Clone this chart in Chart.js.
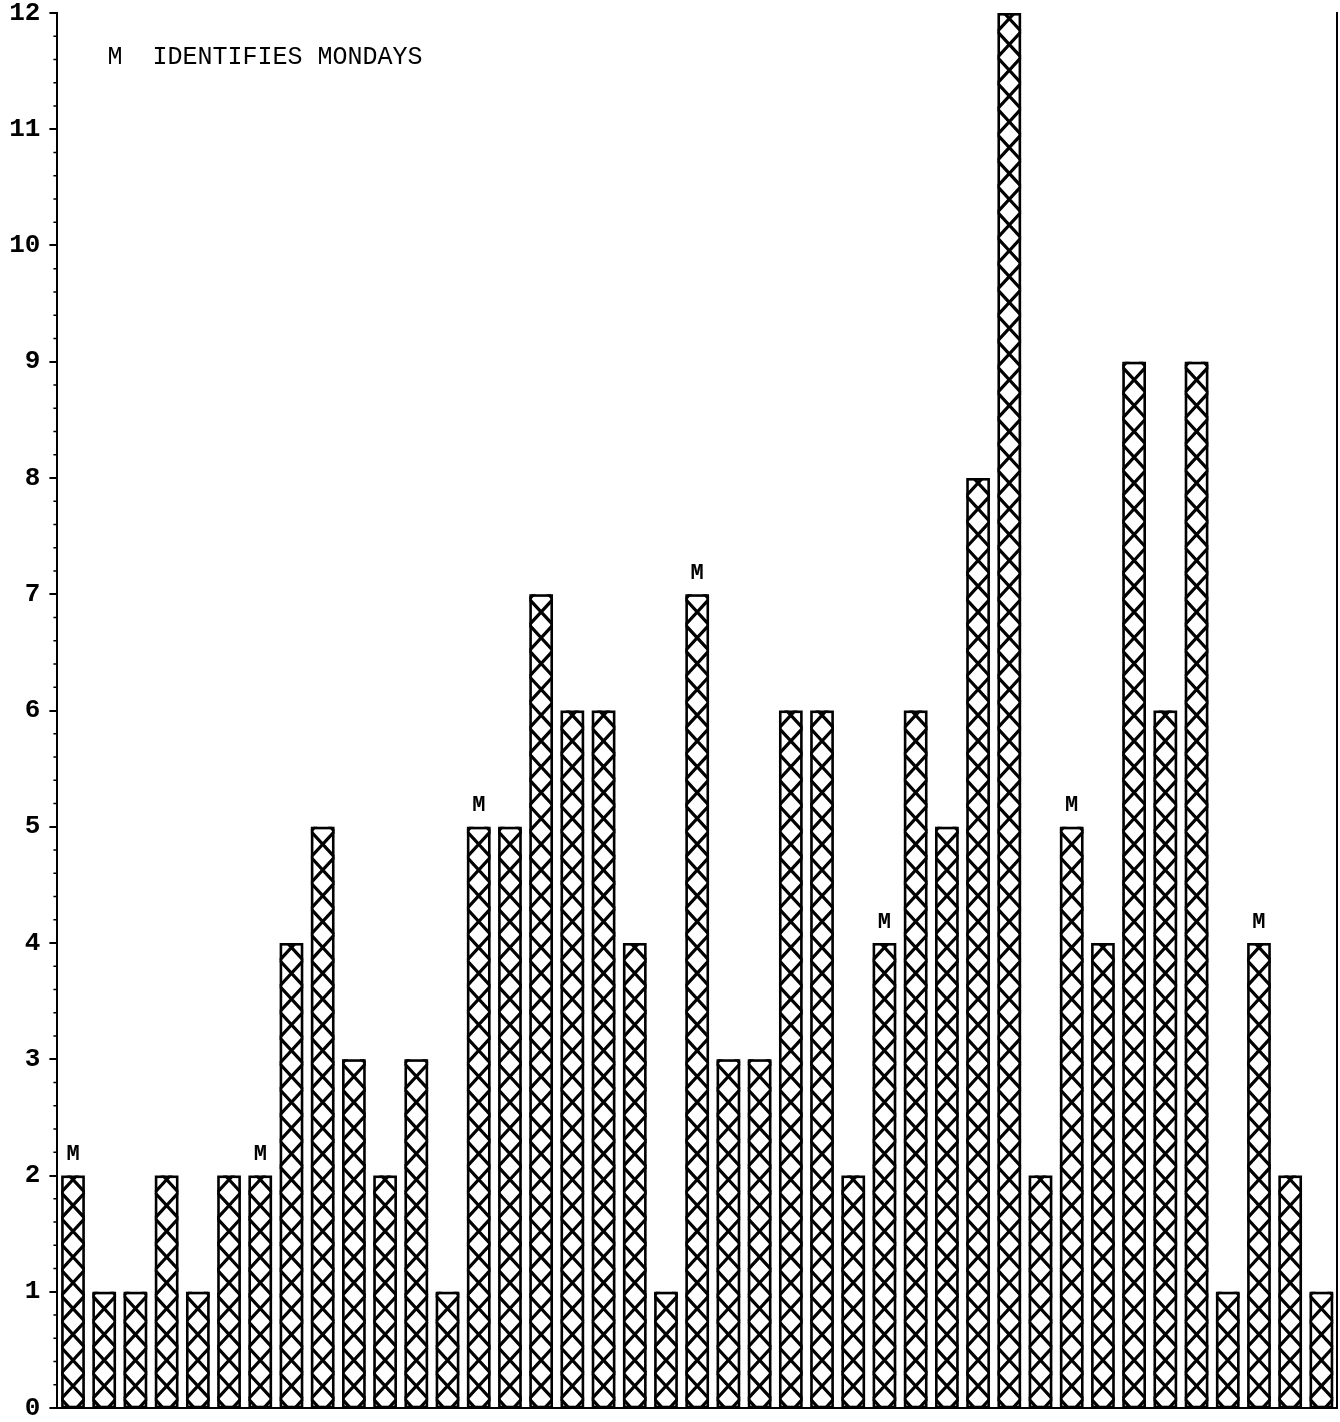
<!DOCTYPE html>
<html>
<head>
<meta charset="utf-8">
<script src="https://cdn.jsdelivr.net/npm/chart.js@4/dist/chart.umd.min.js"></script>
<style>
  html, body { margin: 0; padding: 0; background: #fff; }
  canvas { display: block; }
</style>
</head>
<body>
<canvas id="c" width="1340" height="1422"></canvas>
<script>
// ---- data ----
const days = Array.from({length: 41}, (_, i) => 'Day ' + (i + 1));
const counts = [2,1,1,2,1,2,2,4,5,3,2,3,1,5,5,7,6,6,4,1,7,3,3,6,6,2,4,6,5,8,12,2,5,4,9,6,9,1,4,2,1];
const mondayIdx = [0,6,13,20,26,32,38];
const yTicks = [0,1,2,3,4,5,6,7,8,9,10,11,12];
const noteText = 'M  IDENTIFIES MONDAYS';
const mondayMark = 'M';

const MONO = '"Liberation Mono", "DejaVu Sans Mono", monospace';

const hatchPlugin = {
  id: 'hatch',
  afterDatasetsDraw(chart) {
    const ctx = chart.ctx;
    const meta = chart.getDatasetMeta(0);
    const P = 25.8, off = 21;
    meta.data.forEach(bar => {
      const {x, y, base, width} = bar.getProps(['x', 'y', 'base', 'width'], true);
      const l = x - width / 2, r = x + width / 2;
      const s = P / width;
      ctx.save();
      ctx.beginPath();
      ctx.rect(l, y, width, base - y);
      ctx.clip();
      ctx.strokeStyle = '#000';
      ctx.lineWidth = 3.2;
      ctx.beginPath();
      for (let yc = base - off + 2 * P; yc > y - 2 * P; yc -= P) {
        ctx.moveTo(l, yc - s * (x - l)); ctx.lineTo(r, yc + s * (r - x));
        ctx.moveTo(l, yc + s * (x - l)); ctx.lineTo(r, yc - s * (r - x));
      }
      ctx.stroke();
      ctx.restore();
      ctx.save();
      ctx.strokeStyle = '#000';
      ctx.lineWidth = 2.6;
      ctx.strokeRect(l + 1.3, y + 1.3, width - 2.6, base - y - 1.3);
      ctx.restore();
    });
    // Monday marks
    ctx.save();
    ctx.fillStyle = '#000';
    ctx.font = 'bold 22px ' + MONO;
    ctx.textAlign = 'center';
    ctx.textBaseline = 'middle';
    mondayIdx.forEach(i => {
      const b = meta.data[i];
      ctx.fillText(mondayMark, b.x, b.y - 21);
    });
    ctx.restore();
    // note
    const area = chart.chartArea;
    ctx.save();
    ctx.fillStyle = '#000';
    ctx.font = '25px ' + MONO;
    ctx.textAlign = 'left';
    ctx.textBaseline = 'middle';
    ctx.fillText(noteText, area.left + 50, 57);
    ctx.restore();
    // minor ticks on y axis
    const ys = chart.scales.y;
    ctx.save();
    ctx.strokeStyle = '#000';
    ctx.lineWidth = 1.6;
    ctx.beginPath();
    for (let k = 0; k < yTicks.length - 1; k++) {
      for (let m = 1; m < 5; m++) {
        const py = ys.getPixelForValue(yTicks[k] + m * (yTicks[k + 1] - yTicks[k]) / 5);
        ctx.moveTo(ys.right - 4, py);
        ctx.lineTo(ys.right, py);
      }
    }
    ctx.stroke();
    ctx.restore();
  }
};

new Chart(document.getElementById('c'), {
  type: 'bar',
  data: {
    labels: days,
    datasets: [{
      data: counts,
      backgroundColor: '#fff',
      borderColor: '#000',
      borderWidth: 0,
      categoryPercentage: 1,
      barPercentage: 0.76
    }]
  },
  options: {
    responsive: false,
    animation: false,
    devicePixelRatio: 1,
    layout: { padding: { left: 0, right: 3, top: 13, bottom: 14 } },
    plugins: { legend: { display: false }, tooltip: { enabled: false } },
    scales: {
      x: {
        ticks: { display: false },
        grid: { display: false, drawTicks: false },
        border: { display: true, color: '#000', width: 2 },
        afterFit(s) { s.height = 0; s.paddingLeft = 0; s.paddingRight = 0; }
      },
      y: {
        min: 0, max: 12,
        afterBuildTicks(s) { s.ticks = yTicks.map(v => ({value: v})); },
        ticks: {
          color: '#000',
          padding: 9,
          font: { family: MONO, size: 26, weight: 'bold' }
        },
        grid: { drawOnChartArea: false, drawTicks: true, tickLength: 8, color: '#000', lineWidth: 2 },
        border: { display: true, color: '#000', width: 2 },
        afterFit(s) { s.width = 57.4; s.paddingTop = 0; s.paddingBottom = 0; }
      },
      y2: {
        position: 'right',
        min: 0, max: 12,
        ticks: { display: false },
        grid: { display: false, drawTicks: false },
        border: { display: true, color: '#000', width: 2 },
        afterFit(s) { s.width = 0; s.paddingTop = 0; s.paddingBottom = 0; }
      }
    }
  },
  plugins: [hatchPlugin]
});
</script>
</body>
</html>
